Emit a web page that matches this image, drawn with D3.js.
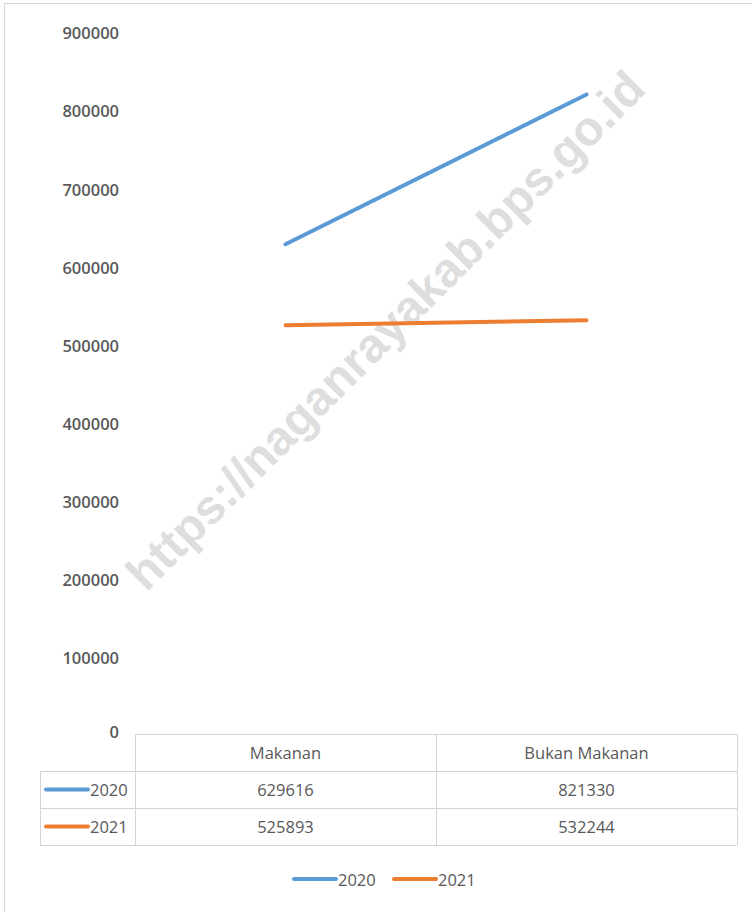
<!DOCTYPE html>
<html>
<head>
<meta charset="utf-8">
<script src="https://cdn.jsdelivr.net/npm/d3@7"></script>
<style>
  html, body { margin: 0; padding: 0; background: #fff; }
  svg { display: block; }
  text { font-family: "Open Sans", "Noto Sans", sans-serif; fill: #595959; }
</style>
</head>
<body>
<div id="chart"></div>
<script>
// data
const categories = ["Makanan", "Bukan Makanan"];
const seriesNames = ["2020", "2021"];
const values2020 = [629616, 821330];
const values2021 = [525893, 532244];
const yTicks = [0, 100000, 200000, 300000, 400000, 500000, 600000, 700000, 800000, 900000];
const colors = ["#5B9BD5", "#ED7D31"];
const watermark = "https://naganrayakab.bps.go.id";

const series = [
    { name: seriesNames[0], values: values2020, color: colors[0] },
    { name: seriesNames[1], values: values2021, color: colors[1] }
];

const W = 752, H = 912;
const plotLeft = 135, plotRight = 737, plotTop = 33, plotBottom = 736;
const rowH = 37;

const svg = d3.select("#chart")
    .append("svg")
    .attr("width", W)
    .attr("height", H);

// outer chart border
svg.append("rect")
    .attr("x", 4.5).attr("y", 3.5)
    .attr("width", 800).attr("height", 1000)
    .attr("fill", "none")
    .attr("stroke", "#d9d9d9")
    .attr("stroke-width", 1);

// scales
const y = d3.scaleLinear()
    .domain([0, 900000])
    .range([plotBottom, plotTop]);

const x = d3.scaleBand()
    .domain(categories)
    .range([plotLeft, plotRight]);

// Y axis (labels only)
const yAxis = svg.append("g")
    .attr("transform", `translate(119,0)`)
    .call(d3.axisLeft(y).tickValues(yTicks).tickSize(0).tickPadding(0).tickFormat(d3.format("d")));
yAxis.select(".domain").remove();
yAxis.selectAll("text")
    .attr("dy", "0.35em")
    .style("font-family", "'Open Sans', sans-serif")
    .style("font-size", "16.5px")
    .style("font-weight", "600")
    .style("fill", "#595959");
// the zero label sits a bit above the table
yAxis.selectAll(".tick").filter(d => d === 0).select("text").attr("dy", "0.1em");

// watermark
svg.append("text")
    .attr("transform", "translate(388,333) rotate(-45)")
    .attr("text-anchor", "middle")
    .attr("dominant-baseline", "middle")
    .style("font-family", "'Liberation Sans', Arial, sans-serif")
    .style("font-weight", "700")
    .style("font-size", "48px")
    .style("fill", "#dedede")
    .text(watermark);

// lines
const line = d3.line()
    .x((d, i) => x(categories[i]) + x.bandwidth() / 2)
    .y(d => y(d));

svg.selectAll(".series")
    .data(series)
    .enter()
    .append("path")
    .attr("class", "series")
    .attr("d", d => line(d.values))
    .attr("fill", "none")
    .attr("stroke", d => d.color)
    .attr("stroke-width", 4)
    .attr("stroke-linecap", "round");

// data table
const table = svg.append("g").attr("class", "table");
const gridColor = "#d4d4d4";
const tableLeft = 40;
const tableTop = plotBottom - 2;

// horizontal lines
table.append("line")
    .attr("x1", plotLeft).attr("x2", plotRight)
    .attr("y1", tableTop + 0.5).attr("y2", tableTop + 0.5)
    .attr("stroke", gridColor);
[1, 2, 3].forEach(r => {
    table.append("line")
        .attr("x1", tableLeft).attr("x2", plotRight)
        .attr("y1", tableTop + r * rowH + 0.5).attr("y2", tableTop + r * rowH + 0.5)
        .attr("stroke", gridColor);
});
// vertical lines
table.append("line")
    .attr("x1", tableLeft + 0.5).attr("x2", tableLeft + 0.5)
    .attr("y1", tableTop + rowH).attr("y2", tableTop + 3 * rowH)
    .attr("stroke", gridColor);
[plotLeft, ...categories.map(c => x(c) + x.bandwidth())].forEach(xx => {
    table.append("line")
        .attr("x1", xx + 0.5).attr("x2", xx + 0.5)
        .attr("y1", tableTop).attr("y2", tableTop + 3 * rowH)
        .attr("stroke", gridColor);
});

const cellFont = g => g
    .style("font-family", "'Open Sans', sans-serif")
    .style("font-size", "16.5px")
    .style("font-weight", "500")
    .style("fill", "#595959");

// header row
table.selectAll(".hdr")
    .data(categories)
    .enter()
    .append("text")
    .attr("class", "hdr")
    .attr("x", d => x(d) + x.bandwidth() / 2)
    .attr("y", tableTop + rowH / 2)
    .attr("text-anchor", "middle")
    .attr("dominant-baseline", "central")
    .call(cellFont)
    .text(d => d);

// series rows
series.forEach((s, r) => {
    const cy = tableTop + (r + 1) * rowH + rowH / 2;
    table.append("line")
        .attr("x1", 46).attr("x2", 88)
        .attr("y1", cy).attr("y2", cy)
        .attr("stroke", s.color)
        .attr("stroke-width", 4)
        .attr("stroke-linecap", "round");
    table.append("text")
        .attr("x", 90).attr("y", cy)
        .attr("dominant-baseline", "central")
        .call(cellFont)
        .text(s.name);
    table.selectAll(".v" + r)
        .data(s.values)
        .enter()
        .append("text")
        .attr("x", (d, i) => x(categories[i]) + x.bandwidth() / 2)
        .attr("y", cy)
        .attr("text-anchor", "middle")
        .attr("dominant-baseline", "central")
        .call(cellFont)
        .text(d => d);
});

// legend
const legend = svg.append("g").attr("transform", "translate(0,879)");
const legendX = [294, 394];
series.forEach((s, i) => {
    legend.append("line")
        .attr("x1", legendX[i]).attr("x2", legendX[i] + 42)
        .attr("y1", 0).attr("y2", 0)
        .attr("stroke", s.color)
        .attr("stroke-width", 4)
        .attr("stroke-linecap", "round");
    legend.append("text")
        .attr("x", legendX[i] + 44).attr("y", 0)
        .attr("dominant-baseline", "central")
        .call(cellFont)
        .text(s.name);
});
</script>
</body>
</html>
